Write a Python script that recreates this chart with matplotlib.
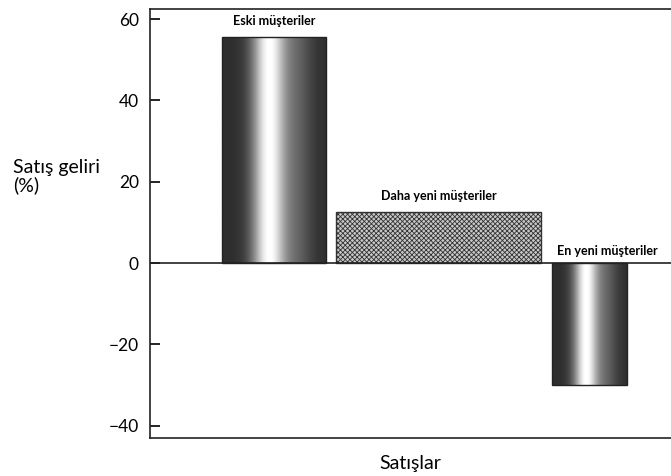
import numpy as np
import matplotlib.pyplot as plt
from matplotlib.patches import Rectangle

plt.rcParams['font.family'] = ['Lato', 'DejaVu Sans']
plt.rcParams['hatch.linewidth'] = 0.6
plt.rcParams['hatch.color'] = '#555555'

categories = ["Eski müşteriler", "Daha yeni müşteriler", "En yeni müşteriler"]
values = [55.5, 12.5, -30]
yticks = [-40, -20, 0, 20, 40, 60]

# layout (bar centres / widths in axis units 0..10)
positions = [2.38, 5.54, 8.44]
widths = [2.0, 3.93, 1.44]
styles = ["cyl", "hatch", "cyl"]

fig = plt.figure(figsize=(6.71, 4.76), dpi=100)
ax = fig.add_axes([150 / 671, 38 / 476, 521 / 671, 429 / 476])
ax.set_xlim(0, 10)
ax.set_ylim(-43.0, 62.46)

# cylinder-like shading: dark edges, bright stripe slightly left of centre
t = np.linspace(0, 1, 200)
shade = 0.18 + 0.82 * np.exp(-((t - 0.45) / 0.16) ** 2)
shade = np.clip(shade + 0.18 * np.exp(-((t - 0.72) / 0.15) ** 2), 0, 1)
grad = np.tile(shade, (2, 1))

for x, w, v, s in zip(positions, widths, values, styles):
    x0 = x - w / 2
    if s == "cyl":
        im = ax.imshow(grad, cmap="gray", vmin=0, vmax=1, aspect="auto",
                       extent=[x0, x0 + w, min(0, v), max(0, v)], zorder=2)
        rect = Rectangle((x0, 0), w, v, facecolor="none", edgecolor="#222222",
                         linewidth=1.0, zorder=3)
        ax.add_patch(rect)
        im.set_clip_path(rect)
    else:
        ax.bar(x, v, width=w, bottom=0, facecolor="#c8c8c8", edgecolor="#333333",
               hatch="xxxxxxx", linewidth=1.0, zorder=2)

# bar labels
for x, v, lab in zip(positions, values, categories):
    if v >= 0:
        ax.text(x, v + 2.6, lab, ha="center", va="bottom", fontsize=9,
                fontweight="bold")
    else:
        ax.text(x + 0.33, 1.6, lab, ha="center", va="bottom", fontsize=9,
                fontweight="bold",
                bbox=dict(facecolor="white", edgecolor="none", pad=1))

ax.axhline(0, color="#222222", linewidth=1.2, zorder=4)

ax.spines["right"].set_visible(False)
for sp in ["left", "top", "bottom"]:
    ax.spines[sp].set_linewidth(1.2)
    ax.spines[sp].set_color("#222222")

ax.set_yticks(yticks)
ax.set_yticklabels([str(v).replace("-", "\u2212") for v in yticks], fontsize=12.5)
ax.tick_params(axis="y", direction="in", length=7, width=1.2, pad=8)
ax.set_xticks([])

ax.set_xlabel("Satışlar", fontsize=14, labelpad=12)
fig.text(13 / 671, 1 - 159 / 476, "Satış geliri\n(%)", ha="left", va="top",
         fontsize=14, linespacing=1.05)

fig.savefig("out.png", dpi=100)
